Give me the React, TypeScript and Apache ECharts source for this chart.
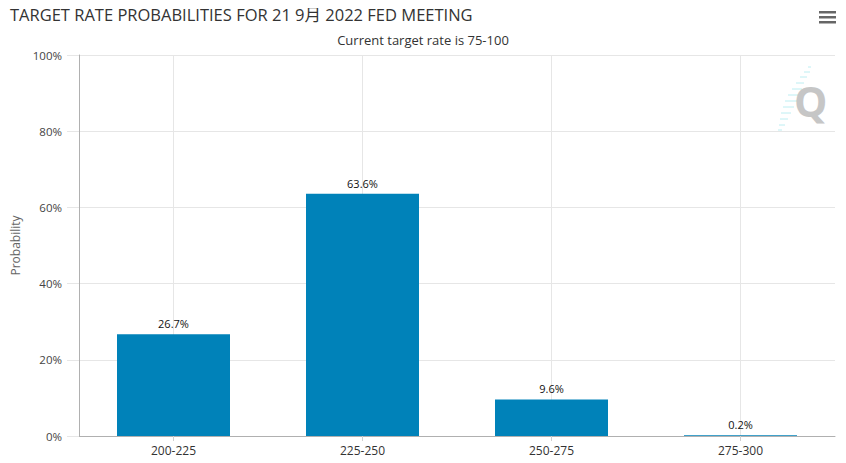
import React, { useEffect, useRef } from "react";
import * as echarts from "echarts";

const titleText = "TARGET RATE PROBABILITIES FOR 21 9月 2022 FED MEETING";
const subtitleText = "Current target rate is 75-100";
const categories = ["200-225", "225-250", "250-275", "275-300"];
const probabilities = [26.7, 63.6, 9.6, 0.2];
const yTicks = [0, 20, 40, 60, 80, 100];
const yAxisName = "Probability";

// half-category slots for vertical grid lines at category centres
const gridSlots = Array.from({ length: categories.length * 2 + 1 }, (_, i) => String(i));

const FONT = "'Open Sans', 'Noto Sans', 'Noto Sans CJK SC', sans-serif";

export default function App() {
  const ref = useRef<HTMLDivElement>(null);
  useEffect(() => {
    if (!ref.current) return;
    const chart = echarts.init(ref.current, undefined, { renderer: "svg" });
    const dashes = [
      [808, 67, 3], [804, 72, 6], [800, 77, 7], [796, 83, 8], [792, 89, 10],
      [788, 95, 11], [785, 101, 12], [783, 107, 11], [781, 113, 10],
      [780, 119, 8], [779, 125, 6], [778, 130, 4],
    ];
    chart.setOption({
      animation: false,
      backgroundColor: "#ffffff",
      textStyle: { fontFamily: FONT },
      title: [
        {
          text: titleText,
          left: 5,
          top: 1,
          textStyle: { fontFamily: FONT, fontSize: 16.5, fontWeight: "normal", color: "#333333" },
        },
        {
          text: subtitleText,
          left: "center",
          top: 28,
          textStyle: { fontFamily: FONT, fontSize: 13, fontWeight: "normal", color: "#333333" },
        },
      ],
      grid: { left: 79, right: 11, top: 55, bottom: 27, containLabel: false },
      xAxis: [
        {
          type: "category",
          data: categories,
          boundaryGap: true,
          axisLine: { show: true, lineStyle: { color: "#b0b0b0", width: 1 } },
          axisTick: { show: true, alignWithLabel: true, length: 5, lineStyle: { color: "#d0d0d0" } },
          axisLabel: { color: "#333333", fontSize: 12, margin: 8, fontFamily: FONT },
          splitLine: { show: false },
        },
        {
          type: "category",
          data: gridSlots,
          boundaryGap: false,
          position: "bottom",
          axisLine: { show: false },
          axisTick: { show: false },
          axisLabel: { show: false },
          splitLine: {
            show: true,
            interval: (index: number) => index % 2 === 1,
            lineStyle: { color: "#e6e6e6", width: 1 },
          },
        },
      ],
      yAxis: {
        type: "value",
        min: yTicks[0],
        max: yTicks[yTicks.length - 1],
        interval: yTicks[1] - yTicks[0],
        name: yAxisName,
        nameLocation: "middle",
        nameGap: 58,
        nameRotate: 90,
        nameTextStyle: { color: "#666666", fontSize: 12, fontFamily: FONT },
        axisLine: { show: true, lineStyle: { color: "#b0b0b0", width: 1 } },
        axisTick: { show: true, length: 12, lineStyle: { color: "#e6e6e6" } },
        axisLabel: { formatter: "{value}%", color: "#444444", fontSize: 11.5, margin: 17, fontFamily: FONT },
        splitLine: { show: true, lineStyle: { color: "#e6e6e6", width: 1 } },
      },
      series: [
        {
          type: "bar",
          xAxisIndex: 0,
          data: probabilities,
          barWidth: 113,
          itemStyle: { color: "#0082b9" },
          label: {
            show: true,
            position: "top",
            distance: 5,
            formatter: (p: any) => `${p.value}%`,
            color: "#111111",
            fontSize: 11,
            fontFamily: FONT,
          },
        },
      ],
      graphic: [
        { type: "rect", shape: { x: 819, y: 11, width: 17, height: 2.5 }, style: { fill: "#666666" } },
        { type: "rect", shape: { x: 819, y: 16, width: 17, height: 2.5 }, style: { fill: "#666666" } },
        { type: "rect", shape: { x: 819, y: 21, width: 17, height: 2.5 }, style: { fill: "#666666" } },
        ...dashes.map(([x, y, w]) => ({
          type: "line",
          shape: { x1: x, y1: y, x2: x + w, y2: y },
          style: { stroke: "#bdeef2", lineWidth: 1 },
          silent: true,
        })),
        {
          type: "text",
          x: 794,
          y: 79,
          silent: true,
          style: {
            text: "Q",
            fontSize: 42,
            fontWeight: "bold",
            fontFamily: "'Open Sans', sans-serif",
            fill: "#c6c6c6",
          },
        },
      ],
    });
    return () => chart.dispose();
  }, []);
  return <div ref={ref} style={{ width: 846, height: 463, margin: -8 }} />;
}
